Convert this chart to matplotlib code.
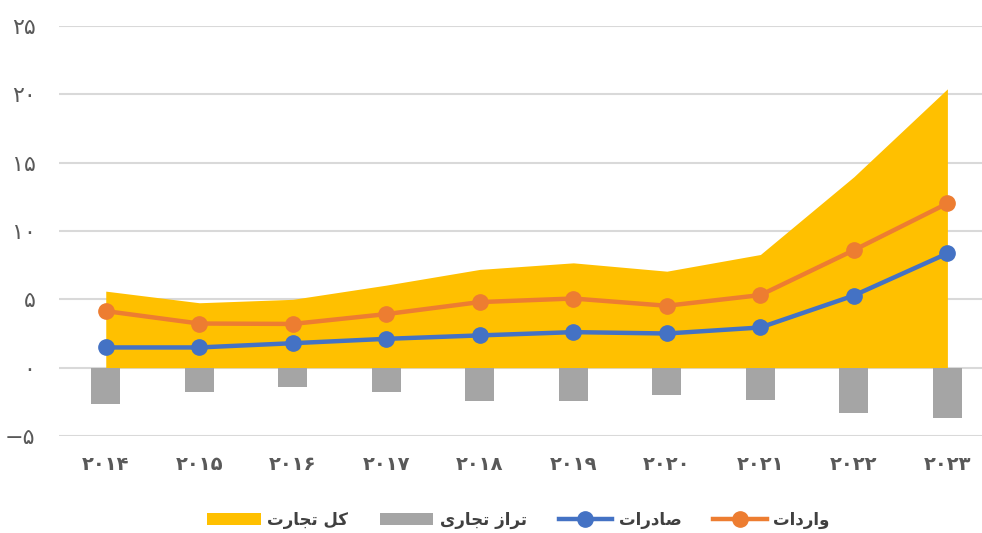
import matplotlib
matplotlib.use("Agg")
import matplotlib.pyplot as plt
import numpy as np

# داده ها
years = ["2014", "2015", "2016", "2017", "2018", "2019", "2020", "2021", "2022", "2023"]
total_trade = [5.6, 4.75, 5.0, 6.04, 7.19, 7.67, 7.06, 8.28, 13.97, 20.4]
imports_ = [4.14, 3.23, 3.2, 3.92, 4.8, 5.06, 4.53, 5.31, 8.6, 12.02]
exports_ = [1.48, 1.48, 1.79, 2.11, 2.36, 2.6, 2.5, 2.94, 5.28, 8.36]
balance = [-2.65, -1.76, -1.4, -1.76, -2.43, -2.44, -2.02, -2.36, -3.31, -3.65]
y_ticks = [-5, 0, 5, 10, 15, 20, 25]

lbl_total = "کل تجارت"
lbl_balance = "تراز تجاری"
lbl_exports = "صادرات"
lbl_imports = "واردات"

# matplotlib no shaping -> presentation forms by hand
# (isolated, final, initial, medial)
FORMS = {
    "ا": ("\uFE8D", "\uFE8E", None, None),
    "د": ("\uFEA9", "\uFEAA", None, None),
    "ر": ("\uFEAD", "\uFEAE", None, None),
    "ز": ("\uFEAF", "\uFEB0", None, None),
    "و": ("\uFEED", "\uFEEE", None, None),
    "ت": ("\uFE95", "\uFE96", "\uFE97", "\uFE98"),
    "ج": ("\uFE9D", "\uFE9E", "\uFE9F", "\uFEA0"),
    "ص": ("\uFEB9", "\uFEBA", "\uFEBB", "\uFEBC"),
    "ل": ("\uFEDD", "\uFEDE", "\uFEDF", "\uFEE0"),
    "ک": ("\uFB8E", "\uFB8F", "\uFB90", "\uFB91"),
    "ی": ("\uFBFC", "\uFBFD", "\uFBFE", "\uFBFF"),
}


def shape(text):
    out = []
    for i, ch in enumerate(text):
        if ch not in FORMS:
            out.append(ch)
            continue
        prev = text[i - 1] if i > 0 else " "
        nxt = text[i + 1] if i + 1 < len(text) else " "
        joins_prev = prev in FORMS and FORMS[prev][2] is not None
        joins_next = nxt in FORMS and FORMS[ch][2] is not None
        f = FORMS[ch]
        if joins_prev and joins_next:
            out.append(f[3])
        elif joins_prev:
            out.append(f[1])
        elif joins_next:
            out.append(f[2])
        else:
            out.append(f[0])
    return "".join(out)[::-1]


def fa_digits(s):
    return str(s).translate(str.maketrans("0123456789-", "۰۱۲۳۴۵۶۷۸۹−"))


plt.rcParams["font.family"] = ["DejaVu Sans"]

fig = plt.figure(figsize=(9.82, 5.33), dpi=100)
ax = fig.add_axes([59 / 982, 1 - 436 / 533, (982 - 59) / 982, (436 - 26) / 533])

x = np.arange(len(years))
h_total = ax.fill_between(x, 0, total_trade, color="#FFC000", lw=0, label=shape(lbl_total), zorder=2)
h_bal = ax.bar(x, balance, width=0.31, color="#A5A5A5", label=shape(lbl_balance), zorder=2)
h_exp, = ax.plot(x, exports_, color="#4472C4", lw=3.2, marker="o", ms=11, label=shape(lbl_exports), zorder=3)
h_imp, = ax.plot(x, imports_, color="#ED7D31", lw=3.2, marker="o", ms=11, label=shape(lbl_imports), zorder=3)

ax.set_xlim(-0.5, 9.37)
ax.set_ylim(-5, 25)
ax.set_yticks(y_ticks)
ax.set_yticklabels([fa_digits(v) for v in y_ticks], fontsize=16)
ax.set_xticks(x)
ax.set_xticklabels([fa_digits(y) for y in years], fontweight="bold", fontsize=14)
ax.tick_params(axis="both", length=0, colors="#595959")
ax.tick_params(axis="y", pad=17)
ax.tick_params(axis="x", pad=14)
ax.grid(axis="y", color="#D9D9D9", lw=1.5, zorder=0)
ax.set_axisbelow(True)
for s in ax.spines.values():
    s.set_visible(False)

leg = fig.legend(handles=[h_total, h_bal, h_exp, h_imp], loc="center",
                 bbox_to_anchor=(0.528, 0.025), ncol=4, frameon=False,
                 prop={"size": 12, "weight": "bold"}, handlelength=3.2, columnspacing=1.9,
                 handletextpad=0.4)
for t in leg.get_texts():
    t.set_color("#404040")

fig.savefig("out.png", dpi=100)
